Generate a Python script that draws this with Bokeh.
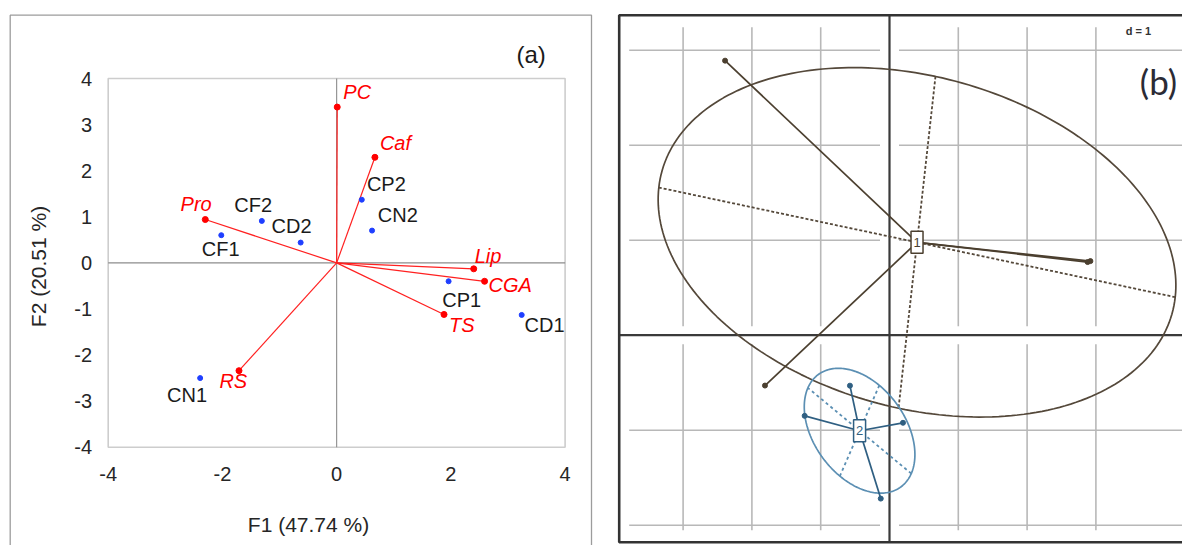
import numpy as np
from bokeh.plotting import figure
from bokeh.layouts import row
from bokeh.models import Range1d, ColumnDataSource
from bokeh.core.properties import value
from bokeh.embed import file_html
from bokeh.resources import INLINE

# ---------------- data: panel (a) PCA biplot ----------------
obs_names = ["CP2", "CN2", "CF2", "CD2", "CF1", "CP1", "CD1", "CN1"]
obs_f1 = [0.44, 0.62, -1.31, -0.63, -2.02, 1.96, 3.24, -2.39]
obs_f2 = [1.37, 0.70, 0.91, 0.44, 0.60, -0.40, -1.13, -2.50]

var_names = ["PC", "Caf", "Pro", "Lip", "CGA", "TS", "RS"]
var_f1 = [0.01, 0.67, -2.30, 2.40, 2.59, 1.88, -1.71]
var_f2 = [3.38, 2.29, 0.94, -0.13, -0.40, -1.12, -2.34]

x_ticks = [-4, -2, 0, 2, 4]
x_tick_labels = ["-4", "-2", "0", "2", "4"]
y_ticks = [-4, -3, -2, -1, 0, 1, 2, 3, 4]
y_tick_labels = ["-4", "-3", "-2", "-1", "0", "1", "2", "3", "4"]
x_title = "F1 (47.74 %)"
y_title = "F2 (20.51 %)"
panel_a_tag = "(a)"

# ---------------- data: panel (b) class scatter ----------------
group_names = ["1", "2"]
group1_x = [-2.39, 2.92, 2.88, -1.81]
group1_y = [2.89, 0.78, 0.77, -0.53]
group2_x = [-0.575, -1.233, 0.196, -0.127]
group2_y = [-0.531, -0.849, -0.922, -1.720]
grid_x = [-3, -2, -1, 1, 2, 3]
grid_y = [-2, -1, 1, 2, 3]
grid_step_label = "d = 1"
panel_b_tag = "(b)"

# ---------------- styles / layout ----------------
FONT = "Liberation Sans"
W_A, W_B, H = 597, 585, 545
obs_label_dx = [0.43, 0.45, -0.15, -0.16, -0.01, 0.23, 0.40, -0.23]
obs_label_dy = [0.35, 0.33, 0.34, 0.36, -0.30, -0.41, -0.21, -0.37]
var_label_dx = [0.35, 0.36, -0.16, 0.25, 0.45, 0.31, -0.10]
var_label_dy = [0.33, 0.31, 0.33, 0.28, -0.07, -0.22, -0.23]

# pixel placement of panel (a)'s plot box (page pixels)
A_LEFT_PX, A_RIGHT_PX, A_TOP_PX, A_BOTTOM_PX = 107.7, 564.6, 78.0, 446.7
xlo, xhi = min(x_ticks), max(x_ticks)
ylo, yhi = min(y_ticks), max(y_ticks)


def ax_px(px):
    return xlo + (px - A_LEFT_PX) * (xhi - xlo) / (A_RIGHT_PX - A_LEFT_PX)


def ay_px(py):
    return ylo + (A_BOTTOM_PX - py) * (yhi - ylo) / (A_BOTTOM_PX - A_TOP_PX)


# ================= panel (a) =================
pa = figure(output_backend="svg", toolbar_location=None, title=None,
            width=W_A, height=H, min_border=0,
            min_border_left=0, min_border_right=0, min_border_top=0, min_border_bottom=0,
            x_range=Range1d(ax_px(0), ax_px(W_A)), y_range=Range1d(ay_px(H), ay_px(0)),
            x_axis_location=None, y_axis_location=None,
            background_fill_color="white", border_fill_color="white")
pa.grid.visible = False
pa.outline_line_color = None

# outer panel border (bottom edge lies below the page)
pa.line([ax_px(9.7), ax_px(9.7), ax_px(591.0), ax_px(591.0)],
        [ay_px(H + 20), ay_px(14.7), ay_px(14.7), ay_px(H + 20)],
        line_color="#9c9c9c", line_width=1.3)
# plot box and zero lines
pa.quad(left=[xlo], right=[xhi], bottom=[ylo], top=[yhi], fill_color=None,
        line_color="#cdcdcd", line_width=1.6)
pa.segment(x0=[0, xlo], y0=[ylo, 0], x1=[0, xhi], y1=[yhi, 0],
           line_color="#8c8c8c", line_width=1.1)

# tick labels
pa.text(x=x_ticks, y=[ay_px(473)] * len(x_ticks), text=x_tick_labels,
        text_font=value(FONT), text_font_size="20px", text_color="#262626",
        text_align="center", text_baseline="middle")
pa.text(x=[ax_px(91.5)] * len(y_ticks), y=y_ticks, text=y_tick_labels,
        text_font=value(FONT), text_font_size="20px", text_color="#262626",
        text_align="right", text_baseline="middle")
# axis titles and panel tag
pa.text(x=[ax_px(308)], y=[ay_px(523.5)], text=[x_title], text_font=value(FONT),
        text_font_size="21px", text_color="#262626", text_align="center", text_baseline="middle")
pa.text(x=[ax_px(38)], y=[ay_px(266)], text=[y_title], angle=np.pi / 2, text_font=value(FONT),
        text_font_size="21px", text_color="#262626", text_align="center", text_baseline="middle")
pa.text(x=[ax_px(530.6)], y=[ay_px(54)], text=[panel_a_tag], text_font=value(FONT),
        text_font_size="24px", text_color="#1a1a1a", text_align="center", text_baseline="middle")

vsrc = ColumnDataSource(dict(x=var_f1, y=var_f2, name=var_names,
                             lx=[a + b for a, b in zip(var_f1, var_label_dx)],
                             ly=[a + b for a, b in zip(var_f2, var_label_dy)]))
osrc = ColumnDataSource(dict(x=obs_f1, y=obs_f2, name=obs_names,
                             lx=[a + b for a, b in zip(obs_f1, obs_label_dx)],
                             ly=[a + b for a, b in zip(obs_f2, obs_label_dy)]))

pa.segment(x0=0, y0=0, x1="x", y1="y", source=vsrc, line_color="#ff2020", line_width=1.2)
pa.scatter("x", "y", source=vsrc, size=6, color="#ff0000")
pa.scatter("x", "y", source=osrc, size=5, color="#1f3fff")
pa.text("lx", "ly", text="name", source=vsrc, text_font=value(FONT), text_font_size="20px",
        text_font_style="italic", text_color="#ff0000", text_align="center", text_baseline="middle")
pa.text("lx", "ly", text="name", source=osrc, text_font=value(FONT), text_font_size="20px",
        text_color="#1a1a1a", text_align="center", text_baseline="middle")

# ================= panel (b) =================
B_X0_PX, B_Y0_PX, B_PPU_X, B_PPU_Y = 889.0, 334.7, 68.8, 95.0


def bx_px(px):
    return (px - B_X0_PX) / B_PPU_X


def by_px(py):
    return (B_Y0_PX - py) / B_PPU_Y


pb = figure(output_backend="svg", toolbar_location=None, title=None,
            width=W_B, height=H, min_border=0,
            min_border_left=0, min_border_right=0, min_border_top=0, min_border_bottom=0,
            x_range=Range1d(bx_px(W_A), bx_px(W_A + W_B)), y_range=Range1d(by_px(H), by_px(0)),
            x_axis_location=None, y_axis_location=None,
            background_fill_color="white", border_fill_color="white")
pb.grid.visible = False
pb.outline_line_color = None

fl, fr = bx_px(618.7), bx_px(W_A + W_B + 30)
ft, fb = by_px(14.7), by_px(541.7)

# grid
pb.segment(x0=grid_x, y0=fb, x1=grid_x, y1=ft, line_color="#b8b8b8", line_width=1.6)
pb.segment(x0=fl, y0=grid_y, x1=fr, y1=grid_y, line_color="#b8b8b8", line_width=1.6)
# white gaps around the axes and inside the frame
pb.segment(x0=[0, fl], y0=[fb, fb], x1=[0, fl], y1=[ft, ft], line_color="white", line_width=[19, 20])
pb.segment(x0=[fl, fl, fl], y0=[0, ft, fb], x1=[fr, fr, fr], y1=[0, ft, fb], line_color="white",
           line_width=[18, 24, 24])
# axes
pb.segment(x0=[0, fl], y0=[fb, 0], x1=[0, fr], y1=[ft, 0], line_color="#3a3a3a", line_width=2.2)


def draw_group(xs, ys, name, col, col_ell, dash, k=1.5):
    xs = np.asarray(xs, float)
    ys = np.asarray(ys, float)
    cx, cy = xs.mean(), ys.mean()
    C = np.cov(np.vstack([xs, ys]), bias=True)
    vals, vecs = np.linalg.eigh(C)
    order = np.argsort(vals)[::-1]
    vals, vecs = vals[order], vecs[:, order]
    a, b = k * np.sqrt(vals[0]), k * np.sqrt(vals[1])
    e1, e2 = vecs[:, 0], vecs[:, 1]
    t = np.linspace(0, 2 * np.pi, 241)
    ex = cx + a * np.cos(t) * e1[0] + b * np.sin(t) * e2[0]
    ey = cy + a * np.cos(t) * e1[1] + b * np.sin(t) * e2[1]
    pb.line(ex, ey, line_color=col_ell, line_width=1.7)
    pb.segment(x0=[cx - a * e1[0], cx - b * e2[0]], y0=[cy - a * e1[1], cy - b * e2[1]],
               x1=[cx + a * e1[0], cx + b * e2[0]], y1=[cy + a * e1[1], cy + b * e2[1]],
               line_color=col_ell, line_width=1.8, line_dash=dash)
    pb.segment(x0=cx, y0=cy, x1=xs, y1=ys, line_color=col, line_width=1.7)
    pb.scatter(xs, ys, size=5, color=col)
    pb.rect(x=[cx], y=[cy], width=12, height=22, width_units="screen", height_units="screen",
            fill_color="white", line_color=col, line_width=1.5)
    pb.text(x=[cx], y=[cy], text=[name], text_font=value(FONT), text_font_size="13px",
            text_color=col, text_align="center", text_baseline="middle")


draw_group(group1_x, group1_y, group_names[0], "#4b3f2f", "#54483a", "3 2")
draw_group(group2_x, group2_y, group_names[1], "#2f5f82", "#5b8fb3", "3 3")

pb.text(x=[bx_px(1138)], y=[by_px(30)], text=[grid_step_label], text_font=value(FONT),
        text_font_size="11px", text_font_style="bold", text_color="#333333",
        text_align="center", text_baseline="middle")
pb.text(x=[bx_px(1158)], y=[by_px(80)], text=[panel_b_tag], text_font=value("Lato"),
        text_font_size="35px", text_color="#2b2b35", text_align="center", text_baseline="middle")

# frame (left, top, bottom; right side runs off the page)
pb.line([fr, fl, fl, fr], [ft, ft, fb, fb], line_color="#333333", line_width=2.6)

layout = row(pa, pb)
open("out.html", "w").write(file_html(layout, INLINE))
